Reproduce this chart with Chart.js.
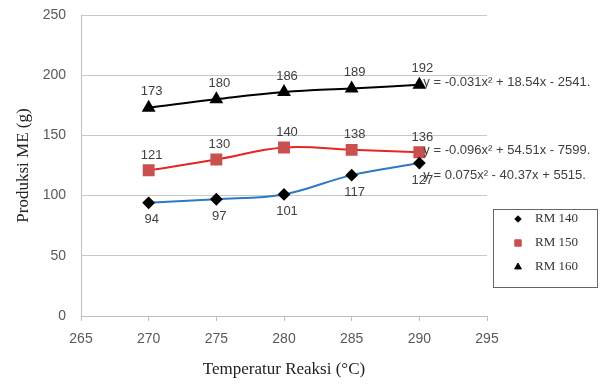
<!DOCTYPE html>
<html>
<head>
<meta charset="utf-8">
<script src="https://cdn.jsdelivr.net/npm/chart.js@4"></script>
<style>
  body { margin: 0; background: #fff; }
  canvas { display: block; }
</style>
</head>
<body>
<canvas id="meChart" width="616" height="389"></canvas>
<script>
// data
const temperatures = [270, 275, 280, 285, 290];
const rm140 = [94, 97, 101, 117, 127];
const rm150 = [121, 130, 140, 138, 136];
const rm160 = [173, 180, 186, 189, 192];
const seriesNames = ['RM 140', 'RM 150', 'RM 160'];
const equations = [
  'y = 0.075x\u00b2 - 40.37x + 5515.',
  'y = -0.096x\u00b2 + 54.51x - 7599.',
  'y = -0.031x\u00b2 + 18.54x - 2541.'
];
const xTicks = [265, 270, 275, 280, 285, 290, 295];
const yTicks = [0, 50, 100, 150, 200, 250];

const toPoints = vals => vals.map((v, i) => ({ x: temperatures[i], y: v }));

// labels above (-) or below (+) the points, and equation offset from last point
const labelOffset = [17, -15, -16];
const eqOffset = [12, -2, -2];

const labelsPlugin = {
  id: 'labelsPlugin',
  afterDatasetsDraw(chart) {
    const ctx = chart.ctx;
    ctx.save();
    ctx.font = '13px "Liberation Sans", Arial, sans-serif';
    ctx.fillStyle = '#404040';
    ctx.textAlign = 'center';
    ctx.textBaseline = 'middle';
    chart.data.datasets.forEach((ds, d) => {
      const meta = chart.getDatasetMeta(d);
      meta.data.forEach((pt, i) => {
        ctx.fillText(String(ds.data[i].y), pt.x + 3, pt.y + labelOffset[d]);
      });
    });
    // trendline equations next to the last point
    ctx.textAlign = 'left';
    chart.data.datasets.forEach((ds, d) => {
      const meta = chart.getDatasetMeta(d);
      const last = meta.data[meta.data.length - 1];
      ctx.fillText(equations[d], last.x + 4, last.y + eqOffset[d]);
    });
    ctx.restore();
  }
};

const legendPlugin = {
  id: 'legendPlugin',
  afterDraw(chart) {
    const ctx = chart.ctx;
    ctx.save();
    ctx.strokeStyle = '#666';
    ctx.lineWidth = 1;
    ctx.strokeRect(493.5, 209.5, 104, 78);
    ctx.font = '13px "Liberation Serif", "Times New Roman", serif';
    ctx.textBaseline = 'middle';
    chart.data.datasets.forEach((ds, d) => {
      const y = 219 + d * 24;
      ctx.fillStyle = ds.pointBackgroundColor;
      ctx.strokeStyle = ds.pointBorderColor;
      Chart.helpers.drawPoint(ctx, {
        pointStyle: ds.pointStyle,
        radius: ds.pointRadius * 0.65,
        borderWidth: 1
      }, 518, y);
      ctx.fillStyle = '#333';
      ctx.fillText(seriesNames[d], 535, y);
    });
    ctx.restore();
  }
};

new Chart(document.getElementById('meChart'), {
  type: 'line',
  data: {
    datasets: [
      {
        label: seriesNames[0],
        data: toPoints(rm140),
        borderColor: '#2e78c4',
        borderWidth: 2,
        tension: 0.35,
        pointStyle: 'rectRot',
        pointRadius: 5,
        pointBackgroundColor: '#000',
        pointBorderColor: '#000'
      },
      {
        label: seriesNames[1],
        data: toPoints(rm150),
        borderColor: '#e82424',
        borderWidth: 2,
        tension: 0.4,
        pointStyle: 'rect',
        pointRadius: 7,
        pointBackgroundColor: '#c9504f',
        pointBorderColor: '#c9504f'
      },
      {
        label: seriesNames[2],
        data: toPoints(rm160),
        borderColor: '#000',
        borderWidth: 2,
        tension: 0.4,
        pointStyle: 'triangle',
        pointRadius: 6,
        pointBackgroundColor: '#000',
        pointBorderColor: '#000'
      }
    ]
  },
  options: {
    responsive: false,
    animation: false,
    layout: { padding: { left: 0, right: 129, top: 15, bottom: 0 } },
    plugins: {
      legend: { display: false },
      tooltip: { enabled: false }
    },
    scales: {
      x: {
        type: 'linear',
        min: xTicks[0],
        max: xTicks[xTicks.length - 1],
        afterBuildTicks: s => { s.ticks = xTicks.map(v => ({ value: v })); },
        afterFit: s => { s.height = 73; },
        grid: { drawOnChartArea: false, tickLength: 5, color: '#bfbfbf' },
        border: { color: '#bfbfbf' },
        ticks: {
          padding: 10,
          color: '#595959',
          font: { family: '"Liberation Sans", Arial, sans-serif', size: 14 }
        },
        title: {
          display: true,
          text: 'Temperatur Reaksi (\u00b0C)',
          color: '#222',
          padding: { top: 0, bottom: 9 },
          font: { family: '"Liberation Serif", "Times New Roman", serif', size: 17 }
        }
      },
      y: {
        min: yTicks[0],
        max: yTicks[yTicks.length - 1],
        afterBuildTicks: s => { s.ticks = yTicks.map(v => ({ value: v })); },
        afterFit: s => { s.width = 81; },
        grid: { drawTicks: true, tickLength: 14, tickColor: 'rgba(0,0,0,0)', color: '#c8c8c8' },
        border: { color: '#bfbfbf' },
        ticks: {
          padding: 1,
          color: '#595959',
          font: { family: '"Liberation Sans", Arial, sans-serif', size: 14 }
        },
        title: {
          display: true,
          text: 'Produksi ME (g)',
          color: '#222',
          padding: { top: 13, bottom: 0 },
          font: { family: '"Liberation Serif", "Times New Roman", serif', size: 17 }
        }
      }
    }
  },
  plugins: [labelsPlugin, legendPlugin]
});
</script>
</body>
</html>
